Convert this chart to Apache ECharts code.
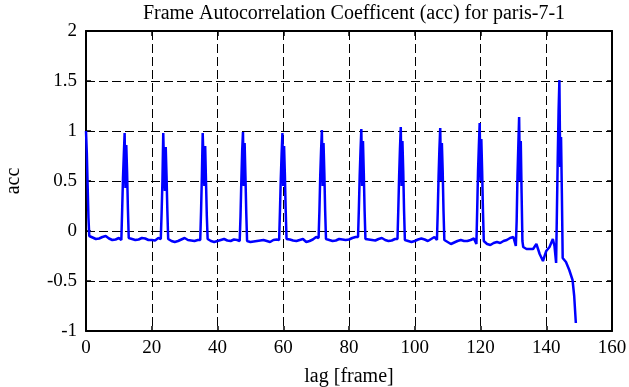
<!DOCTYPE html>
<html>
<head>
<meta charset="utf-8">
<script src="https://cdn.jsdelivr.net/npm/echarts@6/dist/echarts.min.js"></script>
<style>
html,body{margin:0;padding:0;background:#fff;}
#c{width:629px;height:387px;}
</style>
</head>
<body>
<div id="c"></div>
<script>
// ---- data ----
const titleText = 'Frame Autocorrelation Coefficent (acc) for paris-7-1';
const xName = 'lag [frame]';
const yName = 'acc';
const xTicks = [0, 20, 40, 60, 80, 100, 120, 140, 160];
const yTicks = [-1, -0.5, 0, 0.5, 1, 1.5, 2];

const lags = [
  0, 0.25, 0.5, 0.75, 1, 2, 3, 4, 5, 6, 7, 8, 9, 10,
  10.75, 11, 11.25, 11.5, 11.75, 12, 12.25, 12.5, 12.75, 13,
  14, 15, 16, 17, 18, 19, 20, 21, 22,
  22.75, 23, 23.25, 23.5, 23.75, 24, 24.25, 24.5, 24.75, 25,
  26, 27, 28, 29, 30, 31, 32, 33, 34,
  34.75, 35, 35.25, 35.5, 35.75, 36, 36.25, 36.5, 36.75, 37,
  38, 39, 40, 41, 42, 43, 44, 45, 46,
  46.75, 47, 47.25, 47.5, 47.75, 48, 48.25, 48.5, 48.75, 49,
  50, 51, 52, 53, 54, 55, 56, 57, 58,
  58.75, 59, 59.25, 59.5, 59.75, 60, 60.25, 60.5, 60.75, 61,
  62, 63, 64, 65, 66, 67, 68, 69, 70,
  70.75, 71, 71.25, 71.5, 71.75, 72, 72.25, 72.5, 72.75, 73,
  74, 75, 76, 77, 78, 79, 80, 81, 82,
  82.75, 83, 83.25, 83.5, 83.75, 84, 84.25, 84.5, 84.75, 85,
  86, 87, 88, 89, 90, 91, 92, 93, 94,
  94.75, 95, 95.25, 95.5, 95.75, 96, 96.25, 96.5, 96.75, 97,
  98, 99, 100, 101, 102, 103, 104, 105, 106,
  106.75, 107, 107.25, 107.5, 107.75, 108, 108.25, 108.5, 108.75, 109,
  110, 111, 112, 113, 114, 115, 116, 117, 118,
  118.75, 119, 119.25, 119.5, 119.75, 120, 120.25, 120.5, 120.75, 121,
  122, 123, 124, 125, 126, 127, 128, 129, 130, 130.75,
  131, 131.25, 131.5, 131.75, 132, 132.25, 132.5, 132.75,
  133, 134, 135, 136, 137, 138, 139, 140, 141, 142, 142.5, 143,
  143.25, 143.5, 143.75, 144, 144.25, 144.5, 144.75, 145,
  146, 147, 148, 148.5, 149
];
const acc = [
  1.00, 0.78, 0.45, 0.13, -0.05, -0.065, -0.08, -0.075, -0.06, -0.05, -0.075, -0.09, -0.085, -0.07,
  -0.09, 0.21, 0.53, 0.76, 0.98, 0.43, 0.86, 0.59, 0.22, -0.07,
  -0.08, -0.09, -0.085, -0.07, -0.075, -0.09, -0.09, -0.095, -0.07,
  -0.08, 0.18, 0.50, 0.98, 0.62, 0.40, 0.84, 0.55, 0.20, -0.08,
  -0.10, -0.11, -0.10, -0.085, -0.07, -0.09, -0.095, -0.10, -0.09,
  -0.09, 0.20, 0.55, 0.98, 0.70, 0.45, 0.85, 0.50, 0.15, -0.08,
  -0.10, -0.11, -0.10, -0.09, -0.08, -0.095, -0.10, -0.085, -0.09,
  -0.10, 0.15, 0.50, 0.80, 0.99, 0.45, 0.88, 0.55, 0.18, -0.10,
  -0.11, -0.105, -0.10, -0.095, -0.09, -0.10, -0.11, -0.09, -0.085,
  -0.09, 0.20, 0.52, 0.77, 0.98, 0.45, 0.85, 0.56, 0.20, -0.08,
  -0.085, -0.095, -0.10, -0.09, -0.08, -0.11, -0.10, -0.085, -0.06,
  -0.07, 0.20, 0.55, 0.80, 1.01, 0.45, 0.88, 0.58, 0.20, -0.08,
  -0.09, -0.10, -0.095, -0.08, -0.085, -0.09, -0.085, -0.07, -0.06,
  -0.06, 0.22, 0.55, 0.80, 1.02, 0.45, 0.90, 0.58, 0.20, -0.08,
  -0.085, -0.09, -0.095, -0.08, -0.07, -0.09, -0.10, -0.095, -0.08,
  -0.08, 0.22, 0.55, 0.82, 1.04, 0.45, 0.90, 0.60, 0.20, -0.09,
  -0.10, -0.11, -0.10, -0.085, -0.075, -0.085, -0.10, -0.08, -0.06,
  -0.09, 0.20, 0.55, 0.82, 1.03, 0.50, 0.88, 0.60, 0.20, -0.09,
  -0.11, -0.13, -0.115, -0.10, -0.09, -0.10, -0.10, -0.09, -0.075,
  -0.13, 0.22, 0.60, 0.85, 1.08, 0.50, 0.92, 0.60, 0.20, -0.10,
  -0.13, -0.14, -0.12, -0.11, -0.12, -0.10, -0.09, -0.07, -0.06, -0.15,
  0.10, 0.55, 0.85, 1.14, 0.50, 0.90, 0.38, -0.10,
  -0.16, -0.18, -0.18, -0.18, -0.13, -0.23, -0.30, -0.20, -0.16, -0.08, -0.15, -0.32,
  0.21, 0.74, 1.20, 1.51, 0.64, 0.94, 0.38, -0.27,
  -0.31, -0.39, -0.49, -0.65, -0.92
];

// ---- chart ----
const FONT = '"Liberation Serif", "DejaVu Serif", serif';
const chart = echarts.init(document.getElementById('c'), null, {renderer: 'canvas'});
const dashed = {show: true, lineStyle: {color: '#000', width: 1, type: [9, 4]}};
const nameTxt = {color: '#000', fontFamily: FONT, fontSize: 20};
const tickTxt = {color: '#000', fontFamily: FONT, fontSize: 19};
const frameLine = {show: true, onZero: false, lineStyle: {color: '#000', width: 2}};
const tick = {show: true, inside: true, length: 5, lineStyle: {color: '#000', width: 1.5}};

chart.setOption({
  animation: false,
  backgroundColor: '#fff',
  title: {
    text: titleText,
    left: 349, top: -1, textAlign: 'center',
    textStyle: {color: '#000', fontFamily: FONT, fontSize: 20, fontWeight: 'normal'}
  },
  grid: {left: 86, right: 17, top: 31, bottom: 56, show: false, containLabel: false, outerBoundsMode: 'none'},
  xAxis: [{
    type: 'value', min: xTicks[0], max: xTicks[xTicks.length - 1], interval: 20,
    name: xName, nameLocation: 'middle', nameGap: 36, nameTextStyle: nameTxt,
    axisLine: frameLine, axisTick: tick,
    axisLabel: Object.assign({margin: 8}, tickTxt),
    splitLine: dashed
  }, {
    type: 'value', position: 'top', min: 0, max: 160, interval: 20,
    axisLine: frameLine, axisTick: tick,
    axisLabel: {show: false}, splitLine: {show: false}
  }],
  yAxis: [{
    type: 'value', min: yTicks[0], max: yTicks[yTicks.length - 1], interval: 0.5,
    name: yName, nameLocation: 'middle', nameGap: 62, nameRotate: 90, nameTextStyle: nameTxt,
    axisLine: frameLine, axisTick: tick,
    axisLabel: Object.assign({margin: 9}, tickTxt),
    splitLine: dashed
  }, {
    type: 'value', position: 'right', min: -1, max: 2, interval: 0.5,
    axisLine: frameLine, axisTick: tick,
    axisLabel: {show: false}, splitLine: {show: false}
  }],
  series: [{
    type: 'line',
    data: lags.map((x, i) => [x, acc[i]]),
    showSymbol: false,
    symbol: 'none',
    lineStyle: {color: '#0000ff', width: 2.5},
    z: 5
  }]
});
</script>
</body>
</html>
